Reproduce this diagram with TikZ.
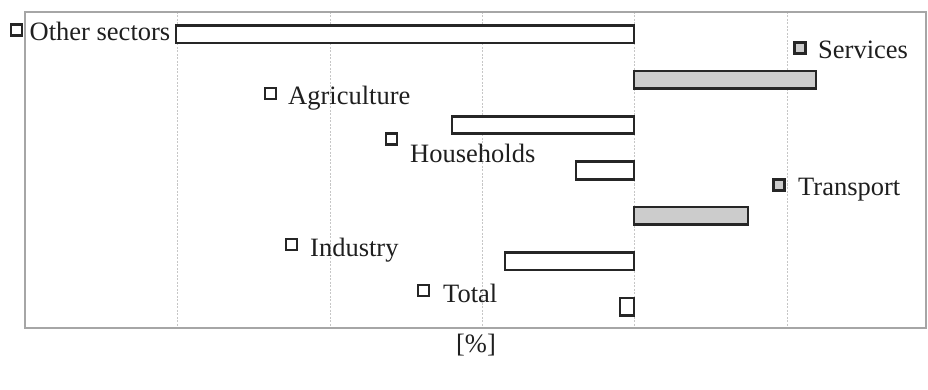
\documentclass[tikz,border=0pt]{standalone}
\usepackage{fontspec}
\setmainfont{Liberation Serif}

\begin{document}
\begin{tikzpicture}[x=1pt,y=-1pt,
  every node/.style={font=\fontsize{26.5}{30}\selectfont, text=black!88},
  grid/.style={gray!45, line width=0.6pt, dash pattern=on 2pt off 1.5pt},
  frame/.style={gray!70, line width=2.2pt},
  negbar/.style={draw=black!85, line width=2.7pt, fill=white},
  posbar/.style={draw=black!85, line width=2.7pt, fill=gray!40},
  negmark/.style={draw=black!85, line width=2.6pt, fill=white, minimum size=11pt, inner sep=0pt},
  posmark/.style={draw=black!85, line width=2.6pt, fill=gray!40, minimum size=11pt, inner sep=0pt},
  lbl/.style={anchor=base west, inner sep=0pt}]

\useasboundingbox (0,0) rectangle (928,390);

% grid and frame
\draw[grid] (177,12) -- (177,328);
\draw[grid] (330,12) -- (330,328);
\draw[grid] (482,12) -- (482,328);
\draw[grid] (634,12) -- (634,328);
\draw[grid] (787,12) -- (787,328);
\draw[frame] (25,12) rectangle (926,328);

% bars
\draw[negbar] (176,25.5) rectangle (634,43);
\draw[posbar] (634,70.9) rectangle (816,88.4);
\draw[negbar] (452,116.3) rectangle (634,133.8);
\draw[negbar] (576,161.7) rectangle (634,179.2);
\draw[posbar] (634,207.1) rectangle (748,224.6);
\draw[negbar] (505,252.5) rectangle (634,270);
\draw[negbar] (620,297.9) rectangle (634,315.4);

% labels
\node[negmark] (M1) at (16.5,30) {};
\node[lbl] (L1) at (29.5,40.5) {Other sectors};
\node[posmark] (M2) at (800,48) {};
\node[lbl] (L2) at (818,59) {Services};
\node[negmark] (M3) at (270.5,93.5) {};
\node[lbl] (L3) at (288,104.5) {Agriculture};
\node[negmark] (M4) at (391.5,139) {};
\node[lbl] (L4) at (410,163) {Households};
\node[posmark] (M5) at (779,185) {};
\node[lbl] (L5) at (798,195.5) {Transport};
\node[negmark] (M6) at (291.5,244.5) {};
\node[lbl] (L6) at (310,256) {Industry};
\node[negmark] (M7) at (423.5,290.5) {};
\node[lbl] (L7) at (443,302) {Total};

\node[anchor=base] (U) at (476,352) {[\%]};
\end{tikzpicture}
\end{document}
